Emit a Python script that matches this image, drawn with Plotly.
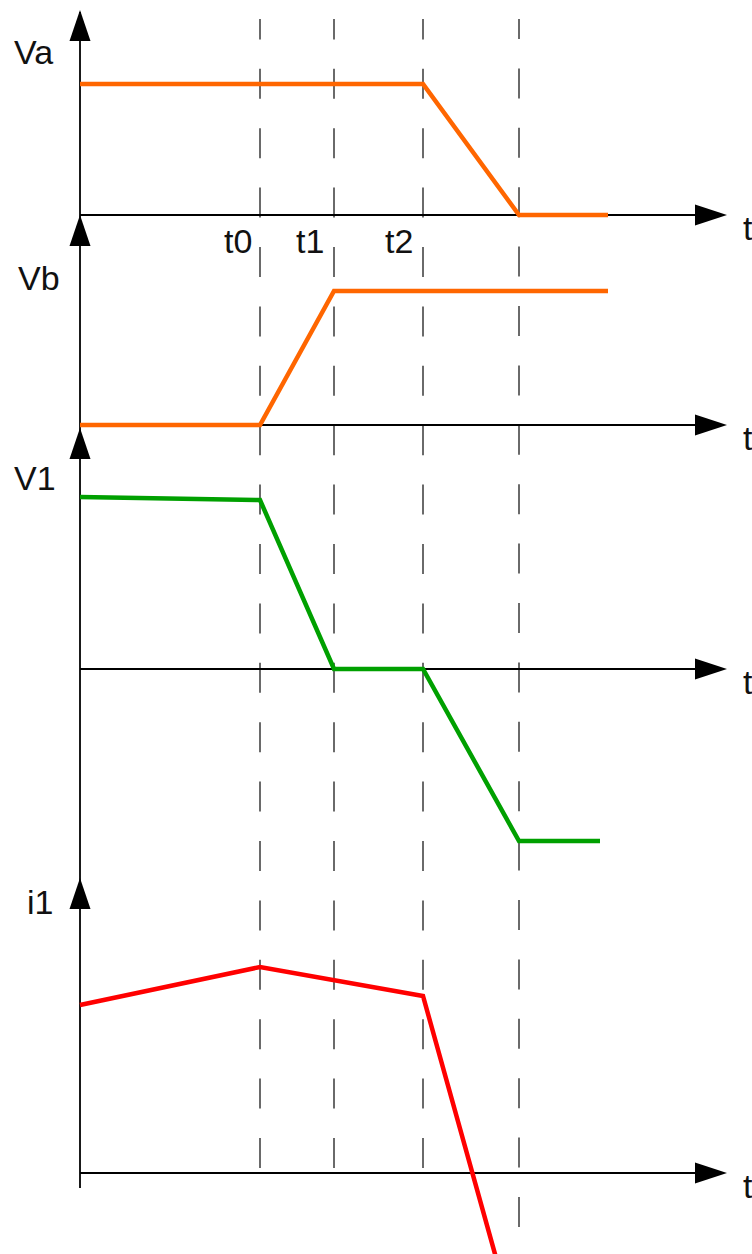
import plotly.graph_objects as go

# ---- time marks (arbitrary time units) ----
t_marks = [1.80, 2.54, 3.43, 4.39]          # t0, t1, t2, t3
t_labels = ["t0", "t1", "t2"]
t_end = 5.28

# ---- waveforms ----
va_t = [0.0, 3.43, 4.39, t_end]
va_v = [1.31, 1.31, 0.0, 0.0]

vb_t = [0.0, 1.80, 2.54, t_end]
vb_v = [0.0, 0.0, 1.34, 1.34]

v1_t = [0.0, 1.80, 2.54, 3.43, 4.39, 5.20]
v1_v = [1.72, 1.69, 0.0, 0.0, -1.72, -1.72]

i1_t = [0.0, 1.80, 3.43, 4.39]
i1_v = [1.68, 2.06, 1.77, -1.67]

panel_names = ["Va", "Vb", "V1", "i1"]

# ---- drawing geometry ----
W, H = 752, 1254
PX = 100.0                      # pixels per unit on both axes
X_LEFT = -0.80                  # x value at the left edge of the page
baselines_px = [215, 425, 669, 1173]   # vertical pixel of each panel's time axis
arrow_tip_px = [10, 215, 428, 878]     # tips of the vertical axis arrows
label_px = [(55, 52), (62, 278), (58, 478), (55, 902)]
axis_ids = ["y", "y2", "y3", "y4"]
wave_colors = ["#FF6600", "#FF6600", "#00A000", "#FF0000"]
waves = [(va_t, va_v), (vb_t, vb_v), (v1_t, v1_v), (i1_t, i1_v)]

FONT = "Arial, Liberation Sans, sans-serif"
TXT = "#111111"


def px_to_x(px):
    return X_LEFT + px / PX


def px_to_y(py, panel):
    return (baselines_px[panel] - py) / PX


fig = go.Figure()

# dashed time markers (drawn bottom-up, on the first panel's axis)
dash_bottom_px = [1168, 1168, 1168, 1227]
for tm, bot in zip(t_marks, dash_bottom_px):
    fig.add_trace(go.Scatter(
        x=[tm, tm], y=[px_to_y(bot, 0), px_to_y(19, 0)], yaxis="y",
        mode="lines", line=dict(color="#3a3a3a", width=1.5, dash="30px,29.4px"),
        hoverinfo="skip"))

# vertical axis line shared by all panels
fig.add_trace(go.Scatter(
    x=[0, 0], y=[px_to_y(1188, 0), px_to_y(12, 0)], yaxis="y",
    mode="lines", line=dict(color="#1a1a1a", width=2), hoverinfo="skip"))

x_arrow_base = px_to_x(695)
x_arrow_tip = px_to_x(727)
half_w = 0.105
head_len = 0.31

for k, ax in enumerate(axis_ids):
    # horizontal time axis
    fig.add_trace(go.Scatter(
        x=[0, x_arrow_base + 0.05], y=[0, 0], yaxis=ax, mode="lines",
        line=dict(color="#000000", width=2), hoverinfo="skip"))
    # horizontal arrow head
    fig.add_trace(go.Scatter(
        x=[x_arrow_base, x_arrow_tip, x_arrow_base, x_arrow_base],
        y=[half_w, 0, -half_w, half_w], yaxis=ax, mode="lines",
        fill="toself", fillcolor="#000000", line=dict(width=0, color="#000000"),
        hoverinfo="skip"))
    # vertical arrow head
    tip = px_to_y(arrow_tip_px[k], k)
    fig.add_trace(go.Scatter(
        x=[-half_w, 0, half_w, -half_w],
        y=[tip - head_len, tip, tip - head_len, tip - head_len], yaxis=ax,
        mode="lines", fill="toself", fillcolor="#000000",
        line=dict(width=0, color="#000000"), hoverinfo="skip"))

# waveforms
for (tt, vv), ax, col, name in zip(waves, axis_ids, wave_colors, panel_names):
    fig.add_trace(go.Scatter(
        x=tt, y=vv, yaxis=ax, mode="lines", name=name,
        line=dict(color=col, width=4.5), hoverinfo="skip"))

annotations = []
for k, name in enumerate(panel_names):
    lx, ly = label_px[k]
    annotations.append(dict(
        x=px_to_x(lx), y=px_to_y(ly, k), xref="x", yref=axis_ids[k],
        text=name, showarrow=False, xanchor="right", yanchor="middle",
        font=dict(family=FONT, size=34, color=TXT)))
    annotations.append(dict(
        x=px_to_x(741), y=px_to_y(baselines_px[k] + 13, k), xref="x",
        yref=axis_ids[k], text="t", showarrow=False, xanchor="left",
        yanchor="middle", font=dict(family=FONT, size=34, color=TXT)))

for tm, lab, cx in zip(t_marks, t_labels, [238, 310, 399]):
    annotations.append(dict(
        x=px_to_x(cx), y=px_to_y(241, 0), xref="x", yref="y", text=lab,
        showarrow=False, xanchor="center", yanchor="middle",
        font=dict(family=FONT, size=34, color=TXT)))

layout_axes = {}
for k, ax in enumerate(axis_ids):
    rng = [px_to_y(H, k), px_to_y(0, k)]
    key = "yaxis" if k == 0 else f"yaxis{k + 1}"
    spec = dict(range=rng, visible=False, fixedrange=True)
    if k > 0:
        spec["overlaying"] = "y"
    layout_axes[key] = spec

fig.update_layout(
    width=W, height=H, autosize=False,
    margin=dict(l=0, r=0, t=0, b=0, pad=0),
    paper_bgcolor="white", plot_bgcolor="white",
    showlegend=False,
    xaxis=dict(range=[X_LEFT, X_LEFT + W / PX], visible=False, fixedrange=True),
    annotations=annotations,
    **layout_axes,
)

fig.write_html("out.html")
